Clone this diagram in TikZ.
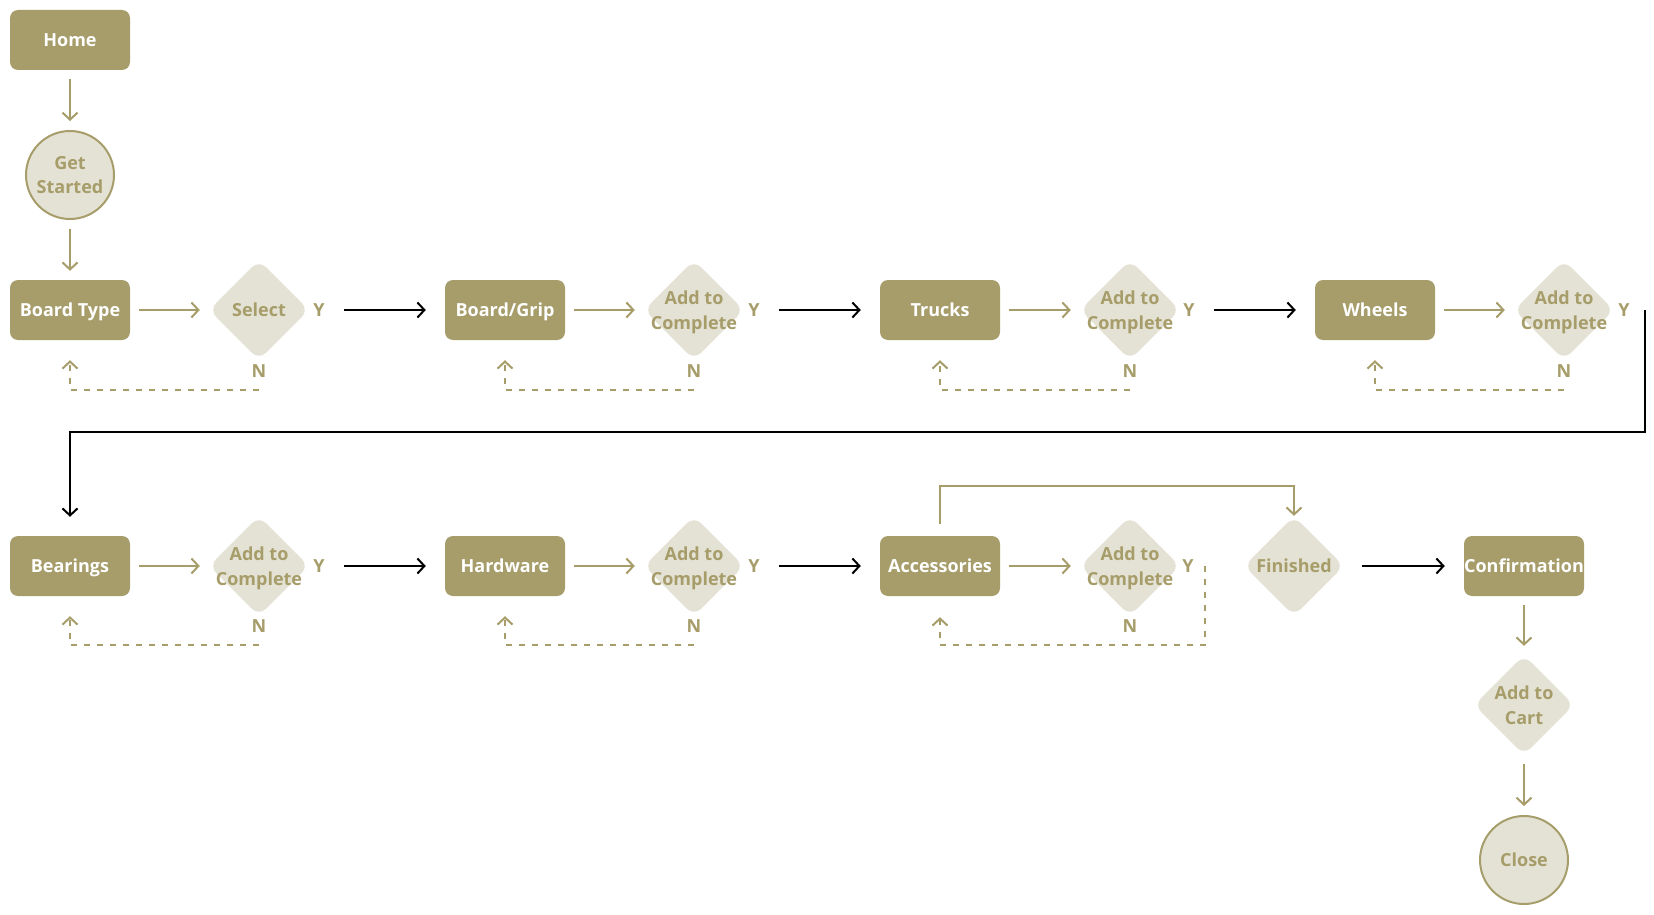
\documentclass[tikz,border=0pt]{standalone}
\usepackage{fontspec}
\setmainfont{Open Sans}
\usetikzlibrary{arrows.meta,shapes.geometric,calc}
\definecolor{Olive}{RGB}{166,157,106}
\definecolor{Sand}{RGB}{228,226,212}

\begin{document}
\begin{tikzpicture}[x=1pt,y=-1pt,
  font=\fontsize{18}{24.5}\selectfont\bfseries,
  box/.style={fill=Olive,text=white,rounded corners=8pt,minimum width=120pt,minimum height=60pt,inner sep=0pt,text height=13pt,text depth=0pt},
  dia/.style={diamond,fill=Sand,minimum size=100pt,inner sep=0pt,rounded corners=10pt,label={[text=Olive,align=center,text depth=0pt]center:{#1}}},
  disc/.style={circle,fill=Sand,draw=Olive,line width=2pt,minimum size=88pt,inner sep=0pt,text=Olive,align=center},
  yn/.style={text=Olive,inner sep=1pt},
  flow/.style={draw=Olive,line width=2pt,-{Straight Barb[length=7pt,width=15pt]},shorten <=9pt,shorten >=9pt},
  jump/.style={draw=black,line width=2pt,-{Straight Barb[length=7pt,width=15pt]},shorten <=18pt,shorten >=19pt},
  back/.style={draw=Olive,line width=2pt,dash pattern=on 6pt off 7pt,-{Straight Barb[length=7pt,width=15pt]}}]
  \useasboundingbox (0,0) rectangle (1654,915);

  \node[box] (home) at (70,40) {Home};
  \node[disc] (start) at (70,175) {Get\\Started};

  \node[box] (b1) at (70,310) {Board Type};
  \node[dia=Select] (d1) at (259,310) {};
  \node[yn] (y1) at (319,310) {Y};
  \node[yn] (n1) at (259,371) {N};
  \node[box] (b2) at (505,310) {Board/Grip};
  \node[dia={Add to\\Complete}] (d2) at (694,310) {};
  \node[yn] (y2) at (754,310) {Y};
  \node[yn] (n2) at (694,371) {N};
  \node[box] (b3) at (940,310) {Trucks};
  \node[dia={Add to\\Complete}] (d3) at (1130,310) {};
  \node[yn] (y3) at (1189,310) {Y};
  \node[yn] (n3) at (1130,371) {N};
  \node[box] (b4) at (1375,310) {Wheels};
  \node[dia={Add to\\Complete}] (d4) at (1564,310) {};
  \node[yn] (y4) at (1624,310) {Y};
  \node[yn] (n4) at (1564,371) {N};

  \node[box] (b5) at (70,566) {Bearings};
  \node[dia={Add to\\Complete}] (d5) at (259,566) {};
  \node[yn] (y5) at (319,566) {Y};
  \node[yn] (n5) at (259,626) {N};
  \node[box] (b6) at (505,566) {Hardware};
  \node[dia={Add to\\Complete}] (d6) at (694,566) {};
  \node[yn] (y6) at (754,566) {Y};
  \node[yn] (n6) at (694,626) {N};
  \node[box] (b7) at (940,566) {Accessories};
  \node[dia={Add to\\Complete}] (d7) at (1130,566) {};
  \node[yn] (y7) at (1188,566) {Y};
  \node[yn] (n7) at (1130,626) {N};
  \node[dia=Finished] (fin) at (1294,566) {};
  \node[box] (conf) at (1524,566) {Confirmation};
  \node[dia={Add to\\Cart}] (cart) at (1524,705) {};
  \node[disc] (close) at (1524,860) {Close};

  \draw[flow] (home) -- (start);
  \draw[flow] (start) -- (b1);
  \draw[flow] (b1) -- (d1);
  \draw[flow] (b2) -- (d2);
  \draw[flow] (b3) -- (d3);
  \draw[flow] (b4) -- (d4);
  \draw[flow] (b5) -- (d5);
  \draw[flow] (b6) -- (d6);
  \draw[flow] (b7) -- (d7);
  \draw[flow] (conf) -- (cart);
  \draw[flow] (cart) -- (close);
  \draw[flow,shorten <=12pt,shorten >=0pt] (b7.north) -- ++(0,-50) -| (fin.north);

  \draw[jump] (y1) -- (b2);
  \draw[jump] (y2) -- (b3);
  \draw[jump] (y3) -- (b4);
  \draw[jump,shorten <=0pt] (y4.east) ++(14,0) |- ($(b5.north)+(0,-104)$) -- (b5.north);
  \draw[jump] (y5) -- (b6);
  \draw[jump] (y6) -- (b7);
  \draw[jump] (fin) -- (conf);

  \draw[back] (n1.south) ++(0,11) -| ($(b1.south)+(0,20)$);
  \draw[back] (n2.south) ++(0,11) -| ($(b2.south)+(0,20)$);
  \draw[back] (n3.south) ++(0,11) -| ($(b3.south)+(0,20)$);
  \draw[back] (n4.south) ++(0,11) -| ($(b4.south)+(0,20)$);
  \draw[back] (n5.south) ++(0,11) -| ($(b5.south)+(0,20)$);
  \draw[back] (n6.south) ++(0,11) -| ($(b6.south)+(0,20)$);
  \draw[back] (y7.east) ++(10,0) |- ($(b7.south)+(0,49)$) -- ($(b7.south)+(0,21)$);
\end{tikzpicture}
\end{document}
